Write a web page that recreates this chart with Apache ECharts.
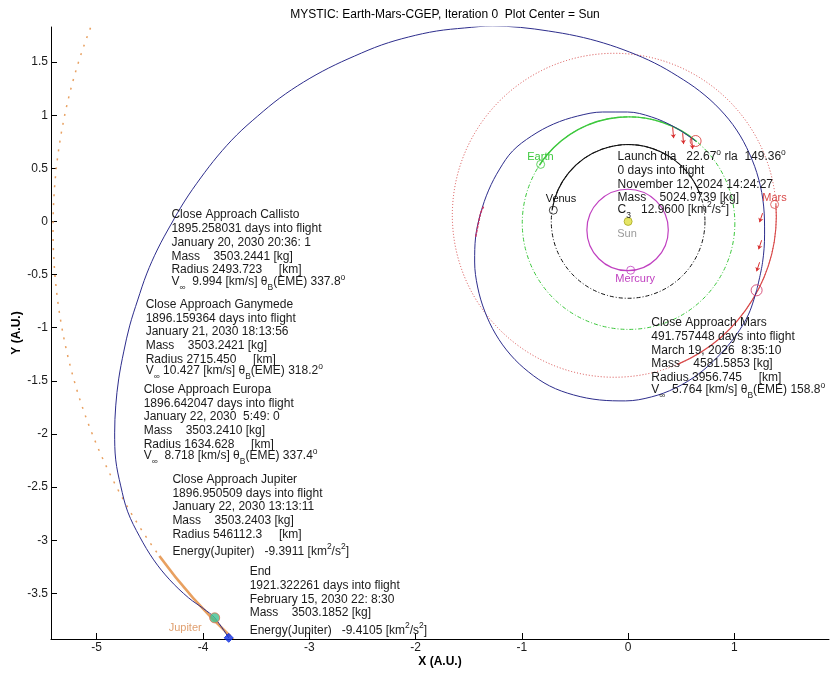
<!DOCTYPE html>
<html><head><meta charset="utf-8">
<script src="https://cdn.jsdelivr.net/npm/echarts@6/dist/echarts.min.js"></script>
<style>html,body{margin:0;padding:0;background:#fff}#c{width:830px;height:673px}</style>
</head><body><div id="c"></div>
<script>
const FONT = '"Liberation Sans", Arial, Helvetica, sans-serif';

// ---- axis ticks ----
const xTicks = [-5, -4, -3, -2, -1, 0, 1];
const yTicks = [-3.5, -3, -2.5, -2, -1.5, -1, -0.5, 0, 0.5, 1, 1.5];

// ---- planetary orbits (centre, radius, solid arc in degrees) ----
const orbitNames = ['Mercury', 'Venus', 'Earth', 'Mars', 'Jupiter'];
const orbitCx = [-0.005, 0.0, 0.004, -0.13, -0.171];
const orbitCy = [-0.08, 0.0, -0.016, 0.058, -0.068];
const orbitR = [0.383, 0.723, 1.0, 1.524, 5.24];
const solidFrom = [0, 20, 50, -67, 216];
const solidTo = [360, 171, 147, 4, 227];

// ---- spacecraft trajectory: Earth -> Mars ----
const leg1X = [0.635, 0.437, 0.221, -0.005, -0.240, -0.475, -0.701, -0.908, -1.087, -1.209, -1.312, -1.387, -1.435, -1.444, -1.416, -1.350, -1.247, -1.105, -0.936, -0.739, -0.513, -0.268, -0.024, 0.221, 0.447, 0.663, 0.851, 1.011, 1.134, 1.209];
const leg1Y = [0.757, 0.888, 0.983, 1.030, 1.030, 0.992, 0.917, 0.804, 0.663, 0.493, 0.295, 0.079, -0.147, -0.382, -0.617, -0.843, -1.060, -1.257, -1.417, -1.548, -1.633, -1.680, -1.689, -1.651, -1.567, -1.435, -1.266, -1.077, -0.872, -0.648];
// ---- spacecraft trajectory: Mars -> Jupiter ----
const leg2X = [1.209, 1.265, 1.284, 1.275, 1.228, 1.143, 1.021, 0.861, 0.673, 0.465, 0.249, 0.014, -0.230, -0.484, -0.748, -1.011, -1.275, -1.538, -1.802, -2.065, -2.319, -2.573, -2.817, -3.053, -3.278, -3.485, -3.683, -3.862, -4.022, -4.172, -4.304, -4.426, -4.530, -4.614, -4.690, -4.746, -4.793, -4.821, -4.831, -4.821, -4.774, -4.708, -4.595, -4.464, -4.313, -4.135, -3.993, -3.890, -3.758];
const leg2Y = [-0.648, -0.385, -0.119, 0.145, 0.399, 0.635, 0.860, 1.058, 1.227, 1.368, 1.491, 1.594, 1.679, 1.745, 1.792, 1.826, 1.840, 1.821, 1.792, 1.736, 1.661, 1.557, 1.444, 1.312, 1.161, 0.992, 0.813, 0.616, 0.409, 0.192, -0.033, -0.259, -0.494, -0.739, -0.983, -1.228, -1.482, -1.736, -1.990, -2.244, -2.489, -2.733, -2.968, -3.185, -3.373, -3.543, -3.646, -3.731, -3.919];

// ---- thrust arrows and thrust arc ----
const arrowX0 = [0.419, 0.513, 0.597, 1.265, 1.256, 1.237];
const arrowY0 = [0.888, 0.831, 0.784, 0.078, -0.177, -0.384];
const arrowX1 = [0.428, 0.522, 0.607, 1.237, 1.228, 1.209];
const arrowY1 = [0.784, 0.728, 0.681, -0.007, -0.262, -0.469];
const thrustArcX = [-1.360, -1.387, -1.412, -1.435];
const thrustArcY = [0.140, 0.079, -0.035, -0.147];

// ---- markers ----
const markerNames = ['Sun', 'Mercury', 'Venus', 'Earth', 'Mars', 'Launch', 'MarsFlyby', 'Jupiter', 'End'];
const markerX = [0, 0.024, -0.704, -0.823, 1.378, 0.635, 1.209, -3.890, -3.758];
const markerY = [0, -0.459, 0.106, 0.537, 0.160, 0.757, -0.648, -3.731, -3.919];

// ---- texts ----
const titleText = 'MYSTIC: Earth-Mars-CGEP, Iteration 0  Plot Center = Sun';
const launchLines = ['Launch dla   22.67^{o} rla  149.36^{o}', '0 days into flight', 'November 12, 2024 14:24:27', 'Mass    5024.9739 [kg]', 'C_{3}   12.9600 [km^{2}/s^{2}]'];
const marsLines = ['Close Approach Mars', '491.757448 days into flight', 'March 19, 2026  8:35:10', 'Mass    4581.5853 [kg]', 'Radius 3956.745     [km]', 'V_{∞}  5.764 [km/s] θ_{B}(EME) 158.8^{o}'];
const callistoLines = ['Close Approach Callisto', '1895.258031 days into flight', 'January 20, 2030 20:36: 1', 'Mass    3503.2441 [kg]', 'Radius 2493.723     [km]', 'V_{∞}  9.994 [km/s] θ_{B}(EME) 337.8^{o}'];
const ganymedeLines = ['Close Approach Ganymede', '1896.159364 days into flight', 'January 21, 2030 18:13:56', 'Mass    3503.2421 [kg]', 'Radius 2715.450     [km]', 'V_{∞} 10.427 [km/s] θ_{B}(EME) 318.2^{o}'];
const europaLines = ['Close Approach Europa', '1896.642047 days into flight', 'January 22, 2030  5:49: 0', 'Mass    3503.2410 [kg]', 'Radius 1634.628     [km]', 'V_{∞}  8.718 [km/s] θ_{B}(EME) 337.4^{o}'];
const jupiterLines = ['Close Approach Jupiter', '1896.950509 days into flight', 'January 22, 2030 13:13:11', 'Mass    3503.2403 [kg]', 'Radius 546112.3     [km]', 'Energy(Jupiter)   -9.3911 [km^{2}/s^{2}]'];
const endLines = ['End', '1921.322261 days into flight', 'February 15, 2030 22: 8:30', 'Mass    3503.1852 [kg]', 'Energy(Jupiter)   -9.4105 [km^{2}/s^{2}]'];

// ---- layout / styles ----
const orbitStyle = {
  Mercury: { color: '#c040c0', dash: null, w: 1, sw: 1.2 },
  Venus: { color: '#111111', dash: [4, 2, 1, 2], w: 1, sw: 1.1 },
  Earth: { color: '#3cc83c', dash: [4, 2, 1, 2], w: 1, sw: 1.4 },
  Mars: { color: '#d84848', dash: [1, 2], w: 1, sw: 1.1 },
  Jupiter: { color: '#e8a060', dash: [2, 7], w: 1.5, sw: 2.6 }
};
const markerStyle = {
  Sun: { symbol: 'circle', size: 8, fill: '#dede40', stroke: '#a8a820' },
  Mercury: { symbol: 'circle', size: 8, fill: 'none', stroke: '#c040c0' },
  Venus: { symbol: 'circle', size: 8, fill: 'none', stroke: '#111' },
  Earth: { symbol: 'circle', size: 8, fill: 'none', stroke: '#3cc83c' },
  Mars: { symbol: 'circle', size: 8, fill: 'none', stroke: '#d84848' },
  Launch: { symbol: 'circle', size: 11, fill: 'none', stroke: '#d83030' },
  MarsFlyby: { symbol: 'circle', size: 11, fill: 'none', stroke: '#d03060' },
  Jupiter: { symbol: 'circle', size: 10, fill: '#40c090', stroke: '#e07050' },
  End: { symbol: 'diamond', size: 9, fill: '#1030e0', stroke: '#1030e0' }
};
const TXT = '#1a1a1a';
const blocks = [
  { lines: launchLines, x: -0.099, y: 0.608, size: 12, color: TXT },
  { lines: marsLines, x: 0.218, y: -0.955, size: 12, color: TXT },
  { lines: callistoLines, x: -4.297, y: 0.059, size: 12, color: TXT },
  { lines: ganymedeLines, x: -4.539, y: -0.782, size: 12, color: TXT },
  { lines: europaLines, x: -4.558, y: -1.582, size: 12, color: TXT },
  { lines: jupiterLines, x: -4.288, y: -2.429, size: 12, color: TXT },
  { lines: endLines, x: -3.561, y: -3.299, size: 12, color: TXT },
  { lines: ['Earth'], x: -0.949, y: 0.603, size: 11, color: '#3cc83c' },
  { lines: ['Venus'], x: -0.776, y: 0.210, size: 11, color: '#111' },
  { lines: ['Sun'], x: -0.102, y: -0.120, size: 11, color: '#9a9a9a' },
  { lines: ['Mercury'], x: -0.120, y: -0.537, size: 11, color: '#c040c0' },
  { lines: ['Mars'], x: 1.262, y: 0.222, size: 11, color: '#d84848' },
  { lines: ['Jupiter'], x: -4.323, y: -3.827, size: 11, color: '#e0a070' }
];

const mctx = document.createElement('canvas').getContext('2d');
function tw(t, fs) { mctx.font = fs + 'px ' + FONT; return mctx.measureText(t).width; }
function parseLine(s) {
  const segs = []; let i = 0, buf = '';
  while (i < s.length) {
    if ((s[i] === '_' || s[i] === '^') && s[i + 1] === '{') {
      if (buf) { segs.push({ t: buf, k: 0 }); buf = ''; }
      const j = s.indexOf('}', i);
      segs.push({ t: s.slice(i + 2, j), k: s[i] === '_' ? -1 : 1 });
      i = j + 1;
    } else { buf += s[i]; i++; }
  }
  if (buf) segs.push({ t: buf, k: 0 });
  return segs;
}

const chart = echarts.init(document.getElementById('c'), null, { renderer: 'canvas' });

const option = {
  animation: false,
  backgroundColor: '#fff',
  title: { text: titleText, left: 440, top: 4, textAlign: 'center',
    textStyle: { fontFamily: FONT, fontSize: 12, fontWeight: 'normal', color: '#000' } },
  grid: { left: 51, right: 1, top: 27, bottom: 34 },
  xAxis: {
    type: 'value', min: -5.43, max: 1.89,
    axisLine: { show: true, onZero: false, lineStyle: { color: '#000', width: 1 } },
    axisTick: { show: true, inside: true, length: 6, customValues: xTicks, lineStyle: { color: '#000' } },
    axisLabel: { customValues: xTicks, color: TXT, fontSize: 12, fontFamily: FONT, margin: 3, formatter: v => String(v) },
    splitLine: { show: false },
    name: 'X (A.U.)', nameLocation: 'middle', nameGap: 17, nameMoveOverlap: false,
    nameTextStyle: { fontFamily: FONT, fontSize: 12, fontWeight: 'bold', color: '#000' }
  },
  yAxis: {
    type: 'value', min: -3.93, max: 1.83,
    axisLine: { show: true, onZero: false, lineStyle: { color: '#000', width: 1 } },
    axisTick: { show: true, inside: true, length: 6, customValues: yTicks, lineStyle: { color: '#000' } },
    axisLabel: { customValues: yTicks, color: TXT, fontSize: 12, fontFamily: FONT, margin: 3, formatter: v => String(v) },
    splitLine: { show: false },
    name: 'Y (A.U.)', nameLocation: 'middle', nameGap: 28, nameRotate: 90, nameMoveOverlap: false,
    nameTextStyle: { fontFamily: FONT, fontSize: 12, fontWeight: 'bold', color: '#000' }
  },
  series: [
    {
      type: 'custom', name: 'orbits', clip: true, z: 1,
      data: orbitNames.map((n, i) => [orbitCx[i], orbitCy[i], orbitR[i]]),
      renderItem: function (params, api) {
        const i = params.dataIndex;
        const c = api.coord([api.value(0), api.value(1)]);
        const r = api.size([api.value(2), 0])[0];
        const st = orbitStyle[orbitNames[i]];
        const ch = [];
        if (st.dash) ch.push({ type: 'circle', shape: { cx: c[0], cy: c[1], r: r },
          style: { fill: 'none', stroke: st.color, lineWidth: st.w, lineDash: st.dash } });
        ch.push({ type: 'arc', shape: { cx: c[0], cy: c[1], r: r,
          startAngle: -solidFrom[i] * Math.PI / 180, endAngle: -solidTo[i] * Math.PI / 180, clockwise: false },
          style: { fill: 'none', stroke: st.color, lineWidth: st.sw } });
        return { type: 'group', children: ch };
      }
    },
    {
      type: 'line', name: 'leg1', z: 3, showSymbol: false, smooth: 0.35,
      data: leg1X.map((x, i) => [x, leg1Y[i]]),
      lineStyle: { color: '#2d2d8c', width: 1 }
    },
    {
      type: 'line', name: 'leg2', z: 3, showSymbol: false, smooth: 0.35,
      data: leg2X.map((x, i) => [x, leg2Y[i]]),
      lineStyle: { color: '#2d2d8c', width: 1 }
    },
    {
      type: 'line', name: 'thrustArc', z: 4, showSymbol: false, smooth: 0.3,
      data: thrustArcX.map((x, i) => [x, thrustArcY[i]]),
      lineStyle: { color: '#c83060', width: 1.4, type: [3, 1] }
    },
    {
      type: 'lines', name: 'thrust', coordinateSystem: 'cartesian2d', z: 4,
      data: arrowX0.map((x, i) => ({ coords: [[x, arrowY0[i]], [arrowX1[i], arrowY1[i]]] })),
      symbol: ['none', 'arrow'], symbolSize: 4,
      lineStyle: { color: '#d83030', width: 1, opacity: 1, curveness: 0 }
    },
    {
      type: 'scatter', name: 'markers', z: 5,
      data: markerNames.map((n, i) => {
        const s = markerStyle[n];
        return { value: [markerX[i], markerY[i]], symbol: s.symbol, symbolSize: s.size,
          itemStyle: { color: s.fill === 'none' ? 'rgba(0,0,0,0)' : s.fill, borderColor: s.stroke, borderWidth: 1 } };
      })
    },
    {
      type: 'custom', name: 'texts', z: 6, clip: false,
      data: blocks.map(b => [b.x, b.y]),
      renderItem: function (params, api) {
        const b = blocks[params.dataIndex];
        const p = api.coord([api.value(0), api.value(1)]);
        const ch = [];
        let y = p[1];
        b.lines.forEach((line, li) => {
          const segs = parseLine(line);
          const hasSub = segs.some(s => s.k === -1);
          const hasSup = segs.some(s => s.k === 1 && s.t !== 'o');
          if (li > 0) y += hasSub ? 11.7 : (hasSup ? 17.3 : 13.7);
          let x = p[0];
          segs.forEach(s => {
            const fs = s.k === 0 ? b.size : 8.5;
            const dy = s.k === -1 ? 6 : (s.k === 1 ? (s.t === 'o' ? -4 : -5) : 0);
            ch.push({ type: 'text', style: { x: x, y: y + dy, text: s.t, font: fs + 'px ' + FONT,
              fill: b.color, align: 'left', verticalAlign: 'middle' } });
            x += tw(s.t, fs);
          });
        });
        return { type: 'group', children: ch };
      }
    }
  ]
};
chart.setOption(option);
</script>
</body></html>
